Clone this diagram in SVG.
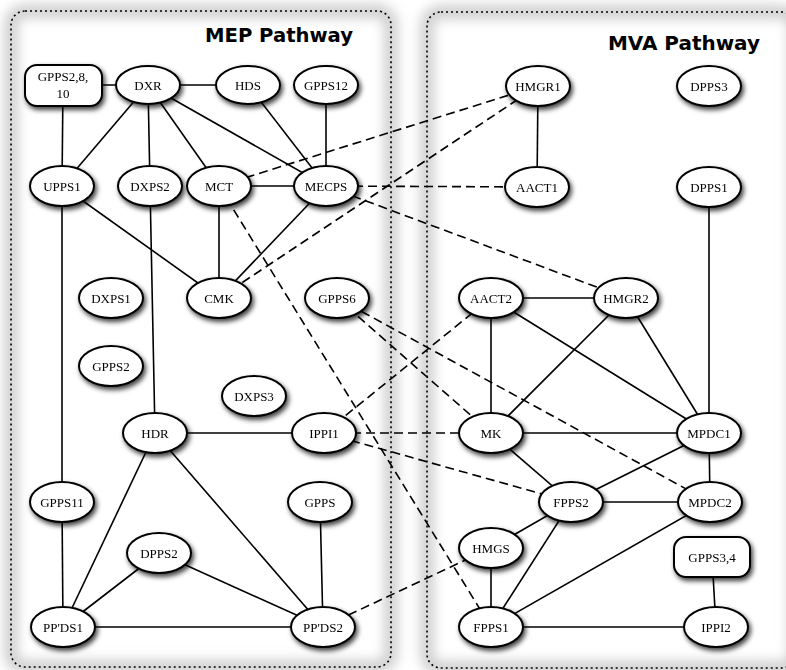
<svg xmlns="http://www.w3.org/2000/svg" width="786" height="670" viewBox="0 0 786 670">
<style>
.clbox{fill:none;stroke:#000;stroke-width:1.6;stroke-dasharray:2,3}
.clshade{fill:none;stroke:#cfcfcf;stroke-width:14}
.title{font-family:"DejaVu Sans",sans-serif;font-weight:bold;font-size:20px;fill:#000;text-anchor:end}
.n ellipse,.n rect{fill:#fff;stroke:#000;stroke-width:2}
.n{filter:url(#sh)}
.n text{font-family:"Liberation Serif","Times New Roman",serif;font-size:13px;fill:#000;text-anchor:middle}
#connectors line{stroke:#000;stroke-width:1.6;fill:none}
#connectors line.d{stroke-dasharray:9,5}
</style>
<defs>
<filter id="sh" x="-30%" y="-40%" width="170%" height="190%">
<feDropShadow dx="2" dy="3" stdDeviation="2.5" flood-color="#000" flood-opacity="0.75"/>
</filter>
<filter id="blur" x="-10%" y="-10%" width="120%" height="120%">
<feGaussianBlur stdDeviation="6"/>
</filter>
</defs>
<rect x="0" y="0" width="786" height="670" fill="#fff"/>
<g id="cluster-mep">
<rect class="clshade" x="11" y="11" width="380" height="656" rx="14" filter="url(#blur)"/>
<rect class="clbox" x="11" y="11" width="380" height="656" rx="14"/>
<text class="title" x="353" y="42" textLength="148" lengthAdjust="spacingAndGlyphs">MEP Pathway</text>
</g>
<g id="cluster-mva">
<rect class="clshade" x="427" y="12" width="368" height="656" rx="14" filter="url(#blur)"/>
<rect class="clbox" x="427" y="12" width="368" height="656" rx="14"/>
<text class="title" x="760" y="50" textLength="152" lengthAdjust="spacingAndGlyphs">MVA Pathway</text>
</g>
<g id="connectors">
<line x1="63" y1="85" x2="148" y2="85"/>
<line x1="148" y1="85" x2="248" y2="85"/>
<line x1="63" y1="85" x2="62" y2="186"/>
<line x1="148" y1="85" x2="62" y2="186"/>
<line x1="148" y1="85" x2="150" y2="186"/>
<line x1="148" y1="85" x2="219" y2="186"/>
<line x1="148" y1="85" x2="326" y2="186"/>
<line x1="248" y1="85" x2="326" y2="186"/>
<line x1="326" y1="85" x2="326" y2="186"/>
<line x1="219" y1="186" x2="326" y2="186"/>
<line x1="62" y1="186" x2="219" y2="298"/>
<line x1="219" y1="186" x2="219" y2="298"/>
<line x1="326" y1="186" x2="219" y2="298"/>
<line x1="62" y1="186" x2="62" y2="502"/>
<line x1="150" y1="186" x2="155" y2="433"/>
<line x1="155" y1="433" x2="324" y2="433"/>
<line x1="155" y1="433" x2="63" y2="627"/>
<line x1="155" y1="433" x2="323" y2="627"/>
<line x1="62" y1="502" x2="63" y2="627"/>
<line x1="159" y1="553" x2="63" y2="627"/>
<line x1="159" y1="553" x2="323" y2="627"/>
<line x1="320" y1="502" x2="323" y2="627"/>
<line x1="63" y1="627" x2="323" y2="627"/>
<line x1="538" y1="86" x2="537" y2="187"/>
<line x1="709" y1="187" x2="709" y2="433"/>
<line x1="491" y1="298" x2="626" y2="298"/>
<line x1="491" y1="298" x2="491" y2="433"/>
<line x1="491" y1="298" x2="709" y2="433"/>
<line x1="626" y1="298" x2="491" y2="433"/>
<line x1="626" y1="298" x2="709" y2="433"/>
<line x1="491" y1="433" x2="709" y2="433"/>
<line x1="491" y1="433" x2="571" y2="502"/>
<line x1="709" y1="433" x2="571" y2="502"/>
<line x1="709" y1="433" x2="710" y2="502"/>
<line x1="571" y1="502" x2="710" y2="502"/>
<line x1="571" y1="502" x2="491" y2="548"/>
<line x1="571" y1="502" x2="491" y2="627"/>
<line x1="491" y1="548" x2="491" y2="627"/>
<line x1="710" y1="502" x2="491" y2="627"/>
<line x1="712" y1="557" x2="716" y2="627"/>
<line x1="491" y1="627" x2="716" y2="627"/>
<line class="d" x1="219" y1="186" x2="538" y2="86"/>
<line class="d" x1="219" y1="298" x2="538" y2="86"/>
<line class="d" x1="326" y1="186" x2="537" y2="187"/>
<line class="d" x1="326" y1="186" x2="626" y2="298"/>
<line class="d" x1="219" y1="186" x2="491" y2="627"/>
<line class="d" x1="337" y1="298" x2="491" y2="433"/>
<line class="d" x1="337" y1="298" x2="710" y2="502"/>
<line class="d" x1="324" y1="433" x2="491" y2="298"/>
<line class="d" x1="324" y1="433" x2="491" y2="433"/>
<line class="d" x1="324" y1="433" x2="571" y2="502"/>
<line class="d" x1="323" y1="627" x2="491" y2="548"/>
</g>
<g id="GPPS2_8_10" class="n"><rect x="25" y="65" width="77" height="41" rx="12"/><text x="63" y="81">GPPS2,8,</text><text x="63" y="98">10</text></g>
<g id="DXR" class="n"><ellipse cx="148" cy="85" rx="32" ry="19"/><text x="148" y="89.5">DXR</text></g>
<g id="HDS" class="n"><ellipse cx="248" cy="85" rx="32" ry="19"/><text x="248" y="89.5">HDS</text></g>
<g id="GPPS12" class="n"><ellipse cx="326" cy="85" rx="32" ry="19"/><text x="326" y="89.5">GPPS12</text></g>
<g id="UPPS1" class="n"><ellipse cx="62" cy="186" rx="32" ry="20"/><text x="62" y="190.5">UPPS1</text></g>
<g id="DXPS2" class="n"><ellipse cx="150" cy="186" rx="32" ry="20"/><text x="150" y="190.5">DXPS2</text></g>
<g id="MCT" class="n"><ellipse cx="219" cy="186" rx="32" ry="20"/><text x="219" y="190.5">MCT</text></g>
<g id="MECPS" class="n"><ellipse cx="326" cy="186" rx="32" ry="20"/><text x="326" y="190.5">MECPS</text></g>
<g id="DXPS1" class="n"><ellipse cx="111" cy="298" rx="32" ry="20"/><text x="111" y="302.5">DXPS1</text></g>
<g id="CMK" class="n"><ellipse cx="219" cy="298" rx="32" ry="20"/><text x="219" y="302.5">CMK</text></g>
<g id="GPPS6" class="n"><ellipse cx="337" cy="298" rx="32" ry="20"/><text x="337" y="302.5">GPPS6</text></g>
<g id="GPPS2" class="n"><ellipse cx="111" cy="366" rx="32" ry="20"/><text x="111" y="370.5">GPPS2</text></g>
<g id="DXPS3" class="n"><ellipse cx="254" cy="396" rx="32" ry="20"/><text x="254" y="400.5">DXPS3</text></g>
<g id="HDR" class="n"><ellipse cx="155" cy="433" rx="32" ry="20"/><text x="155" y="437.5">HDR</text></g>
<g id="IPPI1" class="n"><ellipse cx="324" cy="433" rx="32" ry="20"/><text x="324" y="437.5">IPPI1</text></g>
<g id="GPPS11" class="n"><ellipse cx="62" cy="502" rx="32" ry="20"/><text x="62" y="506.5">GPPS11</text></g>
<g id="GPPS" class="n"><ellipse cx="320" cy="502" rx="32" ry="20"/><text x="320" y="506.5">GPPS</text></g>
<g id="DPPS2" class="n"><ellipse cx="159" cy="553" rx="32" ry="20"/><text x="159" y="557.5">DPPS2</text></g>
<g id="PPDS1" class="n"><ellipse cx="63" cy="627" rx="32" ry="20"/><text x="63" y="631.5">PP'DS1</text></g>
<g id="PPDS2" class="n"><ellipse cx="323" cy="627" rx="32" ry="20"/><text x="323" y="631.5">PP'DS2</text></g>
<g id="HMGR1" class="n"><ellipse cx="538" cy="86" rx="32" ry="20"/><text x="538" y="90.5">HMGR1</text></g>
<g id="DPPS3" class="n"><ellipse cx="709" cy="86" rx="32" ry="20"/><text x="709" y="90.5">DPPS3</text></g>
<g id="AACT1" class="n"><ellipse cx="537" cy="187" rx="32" ry="20"/><text x="537" y="191.5">AACT1</text></g>
<g id="DPPS1" class="n"><ellipse cx="709" cy="187" rx="32" ry="20"/><text x="709" y="191.5">DPPS1</text></g>
<g id="AACT2" class="n"><ellipse cx="491" cy="298" rx="32" ry="20"/><text x="491" y="302.5">AACT2</text></g>
<g id="HMGR2" class="n"><ellipse cx="626" cy="298" rx="32" ry="20"/><text x="626" y="302.5">HMGR2</text></g>
<g id="MK" class="n"><ellipse cx="491" cy="433" rx="32" ry="20"/><text x="491" y="437.5">MK</text></g>
<g id="MPDC1" class="n"><ellipse cx="709" cy="433" rx="32" ry="20"/><text x="709" y="437.5">MPDC1</text></g>
<g id="FPPS2" class="n"><ellipse cx="571" cy="502" rx="32" ry="20"/><text x="571" y="506.5">FPPS2</text></g>
<g id="MPDC2" class="n"><ellipse cx="710" cy="502" rx="32" ry="20"/><text x="710" y="506.5">MPDC2</text></g>
<g id="HMGS" class="n"><ellipse cx="491" cy="548" rx="32" ry="20"/><text x="491" y="552.5">HMGS</text></g>
<g id="GPPS3_4" class="n"><rect x="674" y="537" width="76" height="40" rx="12"/><text x="712" y="561.5">GPPS3,4</text></g>
<g id="FPPS1" class="n"><ellipse cx="491" cy="627" rx="32" ry="20"/><text x="491" y="631.5">FPPS1</text></g>
<g id="IPPI2" class="n"><ellipse cx="716" cy="627" rx="32" ry="20"/><text x="716" y="631.5">IPPI2</text></g>
</svg>
